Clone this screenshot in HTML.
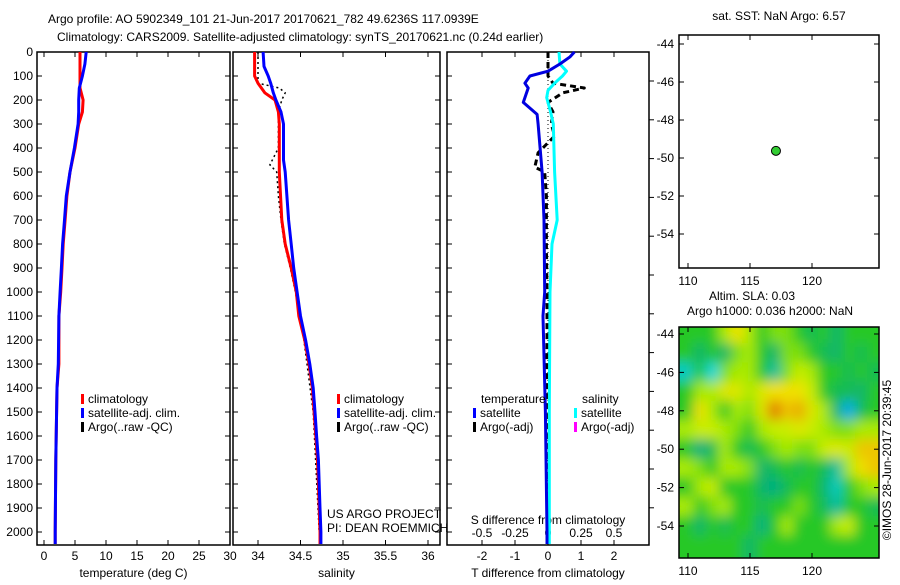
<!DOCTYPE html>
<html><head><meta charset="utf-8"><style>
body{margin:0;background:#fff;}
svg text{font-family:"Liberation Sans",sans-serif;font-size:12px;fill:#000;}
</style></head><body>
<svg id="chart" width="900" height="580" viewBox="0 0 900 580" xmlns="http://www.w3.org/2000/svg">
<rect width="900" height="580" fill="#fff"/>
<text x="48" y="23" font-size="13">Argo profile: AO 5902349_101 21-Jun-2017 20170621_782 49.6236S 117.0939E</text>
<text x="57" y="41" font-size="13">Climatology: CARS2009. Satellite-adjusted climatology: synTS_20170621.nc (0.24d earlier)</text>
<g id="g1"></g>
<text x="779" y="20" text-anchor="middle">sat. SST: NaN Argo: 6.57</text>
<text x="752" y="300" text-anchor="middle">Altim. SLA: 0.03</text>
<text x="770" y="315" text-anchor="middle">Argo h1000: 0.036 h2000: NaN</text>
<text transform="translate(891,460) rotate(-90)" text-anchor="middle">©IMOS 28-Jun-2017 20:39:45</text>
</svg>
<script>
// ---- data ----
const depthTicks=[0,100,200,300,400,500,600,700,800,900,1000,1100,1200,1300,1400,1500,1600,1700,1800,1900,2000];
const tTicks=[0,5,10,15,20,25,30];
const sTicks=[34,34.5,35,35.5,36];
const dTTicks=[-2,-1,0,1,2];
const dSTicks=[-0.5,-0.25,0,0.25,0.5];
const tDepth=[0,50,100,150,200,250,300,400,500,600,700,800,900,1000,1100,1300,1400,1700,2000,2050];
const tClim=[5.8,5.8,5.8,5.8,6.3,6.2,5.6,5.0,4.2,3.7,3.4,3.1,2.9,2.7,2.4,2.4,2.1,1.9,1.8,1.8];
const tSat=[6.8,6.6,6.2,5.7,5.6,5.6,5.5,4.9,4.2,3.6,3.3,3.0,2.8,2.6,2.4,2.3,2.1,1.9,1.8,1.8];
const sDepth=[0,60,100,130,170,200,250,300,450,500,700,800,900,1000,1100,1200,1300,1400,1500,1600,1700,1800,1900,2000,2050];
const sClim=[33.96,33.96,33.96,34.0,34.08,34.2,34.24,34.25,34.25,34.25,34.28,34.32,34.39,34.45,34.48,34.55,34.6,34.64,34.66,34.68,34.7,34.71,34.72,34.73,34.73];
const sSat=[34.06,34.07,34.12,34.15,34.18,34.21,34.27,34.3,34.3,34.32,34.36,34.39,34.42,34.46,34.5,34.56,34.61,34.65,34.67,34.69,34.71,34.72,34.73,34.74,34.74];
const argoSDepth=[0,130,150,170,200,250,300,400,470,500,600,700,800,900,1000,1200,1500,2000];
const argoS=[34.0,34.0,34.25,34.32,34.28,34.24,34.24,34.24,34.14,34.22,34.24,34.27,34.31,34.38,34.44,34.54,34.65,34.72];
const dDepth=[0,20,50,80,100,130,150,210,260,300,400,500,700,1000,1100,1500,2000,2050];
const dTSat=[0.8,0.67,0.36,0,-0.55,-0.7,-0.6,-0.75,-0.33,-0.3,-0.24,-0.18,-0.12,-0.1,-0.15,-0.08,-0.03,-0.03];
const dSDepth=[0,50,80,100,130,160,190,250,300,500,700,800,1000,1500,2000,2050];
const dSSat=[0.083,0.09,0.14,0.11,0.05,0,-0.01,0.02,0.04,0.05,0.07,0.03,0.015,0.01,0.01,0.01];
const dArgoDepth=[0,100,130,150,170,210,250,300,350,420,480,500,600,800,1000,1500,2000];
const dTArgo=[0,0,0.15,1.1,0.45,0,0.15,0.1,0.2,-0.3,-0.4,-0.1,-0.05,-0.05,-0.03,-0.03,-0.02];
const mapLon=[117.0939];
const mapLat=[-49.6236];
const lonTicks=[110,115,120];
const latTicks=[-44,-46,-48,-50,-52,-54];
const slaLats=[-44,-45,-46,-47,-48,-49,-50,-51,-52,-53,-54,-55];
const slaLons=[110,111,112,113,114,115,116,117,118,119,120,121,122,123,124,125];
const sla=[
[0,0,0,.3,.6,.3,0,.2,.2,0,-.2,0,-.3,0,0,0],
[0,-.3,0,-.3,.2,.3,0,-.3,.2,.2,0,-.2,-.3,0,-.2,0],
[-.6,0,-.7,.2,.3,.3,0,-.5,.2,.4,.3,0,0,-.2,0,-.2],
[0,.3,.3,.5,.5,.3,.5,.6,.6,.6,.4,0,-.2,-.2,-.3,0],
[0,.6,.3,0,.3,.2,.5,1,.7,.8,.5,.3,-.3,-.8,-.2,0],
[.3,.4,.4,.3,.2,0,.3,.4,.4,.5,.4,.3,.2,.2,.3,.3],
[0,-.4,-.2,.3,0,-.2,0,.2,.3,.2,.2,.4,.5,.4,.7,.7],
[.3,.2,0,.3,.3,.2,-.3,-.2,0,-.2,0,-.2,-.5,.3,.6,.7],
[0,.3,.4,0,0,0,-.3,-.4,-.2,0,0,-.3,-.6,0,.2,.3],
[.3,0,.2,.3,0,0,-.2,0,0,.2,0,-.2,-.5,0,0,-.2],
[0,-.3,0,-.2,0,0,-.4,0,.3,0,0,0,.3,.4,0,0],
[0,0,0,0,0,-.3,0,0,0,0,0,0,0,0,0,0]];
// ---- helpers ----
const NS="http://www.w3.org/2000/svg";
const root=document.getElementById('g1');
function mk(tag,at,parent){const e=document.createElementNS(NS,tag);for(const k in at)e.setAttribute(k,at[k]);(parent||root).appendChild(e);return e;}
const Y0=52,PY=0.24;
const yD=d=>Y0+d*PY;
const P1={x0:37,x1:230},P2={x0:233,x1:440},P3={x0:447,x1:649},YB=545;
const xT=v=>44+v*6.2;
const xS=v=>258+(v-34)*85;
const xDT=v=>548+v*33;
const xDS=v=>548+v*132;
function frame(p,name){const r=mk('rect',{x:p.x0,y:Y0,width:p.x1-p.x0,height:YB-Y0,fill:'none',stroke:'#000','stroke-width':1.5});

}
function xticks(p,ticks,fx,label,name){ticks.forEach(t=>{const x=fx(t);
mk('line',{x1:x,x2:x,y1:Y0,y2:Y0+5,stroke:'#000'});mk('line',{x1:x,x2:x,y1:YB,y2:YB-5,stroke:'#000'});
const tx=mk('text',{x:x,y:YB+15,'text-anchor':'middle'});tx.textContent=t;

});
const l=mk('text',{x:(p.x0+p.x1)/2,y:577,'text-anchor':'middle'});l.textContent=label;

}
function yticks(p,lab){depthTicks.forEach(d=>{const y=yD(d);
mk('line',{x1:p.x0,x2:p.x0+5,y1:y,y2:y,stroke:'#000'});mk('line',{x1:p.x1,x2:p.x1-5,y1:y,y2:y,stroke:'#000'});
if(lab){const t=mk('text',{x:p.x0-4,y:y+4,'text-anchor':'end'});t.textContent=d;

}});}
function line(xs,ds,fx,col,w,name,dash){const pts=xs.map((v,i)=>fx(v).toFixed(1)+','+yD(ds[i]).toFixed(1)).join(' ');
const e=mk('polyline',{points:pts,fill:'none',stroke:col,'stroke-width':w,'stroke-linejoin':'round'});if(dash)e.setAttribute('stroke-dasharray',dash);

return e;}
function legend(x,y,items){items.forEach((it,i)=>{mk('rect',{x:x,y:y+i*14-9,width:3,height:10,fill:it[1]});
const t=mk('text',{x:x+7,y:y+i*14});t.textContent=it[0];

});}
// panel 1
frame(P1,'temperature-panel');yticks(P1,true);xticks(P1,tTicks,xT,'temperature (deg C)','temperature');
line(tClim,tDepth,xT,'#f00',3,'temperature-climatology-line');
line(tSat,tDepth,xT,'#00f',3,'temperature-satellite-line');
legend(81,403,[['climatology','#f00'],['satellite-adj. clim.','#00f'],['Argo(..raw -QC)','#000']]);
// panel 2
frame(P2,'salinity-panel');yticks(P2,false);xticks(P2,sTicks,xS,'salinity','salinity');
line(argoS,argoSDepth,xS,'#000',1.5,'salinity-argo-line','2,3');
line(sClim,sDepth,xS,'#f00',3,'salinity-climatology-line');
line(sSat,sDepth,xS,'#00f',3,'salinity-satellite-line');
legend(337,403,[['climatology','#f00'],['satellite-adj. clim.','#00f'],['Argo(..raw -QC)','#000']]);
let t=mk('text',{x:327,y:518});t.textContent='US ARGO PROJECT';
t=mk('text',{x:327,y:532});t.textContent='PI: DEAN ROEMMICH';
// panel 3
frame(P3,'difference-panel');xticks(P3,dTTicks,xDT,'T difference from climatology','t-difference');
depthTicks.forEach(d=>{const y=yD(d);mk('line',{x1:P3.x0,x2:P3.x0+5,y1:y,y2:y,stroke:'#000'});});
for(let y=81;y<545;y+=38.8)mk('line',{x1:P3.x1,x2:P3.x1+5,y1:y,y2:y,stroke:'#000'});
mk('line',{x1:548,x2:548,y1:Y0,y2:YB,stroke:'#000','stroke-dasharray':'1,3'});
dSTicks.forEach(v=>{const x=xDS(v);const e=mk('text',{x:x,y:537,'text-anchor':'middle'});e.textContent=v;

});
t=mk('text',{x:548,y:524,'text-anchor':'middle'});t.textContent='S difference from climatology';
line(dTArgo,dArgoDepth,xDT,'#000',3,'t-difference-argo-line','6,4');
line(dSSat,dSDepth,xDS,'#0ff',3,'s-difference-satellite-line');
line(dTSat,dDepth,xDT,'#0000e0',3,'t-difference-satellite-line');
t=mk('text',{x:481,y:403});t.textContent='temperature';
t=mk('text',{x:582,y:403});t.textContent='salinity';
legend(473,417,[['satellite','#00f'],['Argo(-adj)','#000']]);
legend(574,417,[['satellite','#0ff'],['Argo(-adj)','#f0f']]);
// maps
const MX0=679,MX1=879;
const xL=l=>688+(l-110)*12.4;
function mapAxes(y0,y1,yLat,name){const r=mk('rect',{x:MX0,y:y0,width:MX1-MX0,height:y1-y0,fill:'none',stroke:'#000','stroke-width':1.5});


latTicks.forEach(l=>{const y=yLat(l);mk('line',{x1:MX0,x2:MX0+5,y1:y,y2:y,stroke:'#000'});mk('line',{x1:MX1,x2:MX1-5,y1:y,y2:y,stroke:'#000'});
const e=mk('text',{x:MX0-5,y:y+4,'text-anchor':'end'});e.textContent=l;

});
lonTicks.forEach(l=>{const x=xL(l);mk('line',{x1:x,x2:x,y1:y1,y2:y1-5,stroke:'#000'});mk('line',{x1:x,x2:x,y1:y0,y2:y0+5,stroke:'#000'});
const e=mk('text',{x:x,y:y1+17,'text-anchor':'middle'});e.textContent=l;

});}
const yM1=l=>44+(-44-l)*19;
const yM2=l=>334+(-44-l)*19.2;
// heatmap
function col(v){const st=[[-1,[0,90,255]],[-0.7,[0,215,225]],[-0.4,[0,175,130]],[0,[40,200,40]],[0.35,[190,240,0]],[0.6,[240,225,0]],[1,[225,115,0]]];
v=Math.max(-1,Math.min(1,v));for(let i=1;i<st.length;i++){if(v<=st[i][0]){const a=st[i-1],b=st[i],f=(v-a[0])/(b[0]-a[0]);
return 'rgb('+a[1].map((c,k)=>Math.round(c+(b[1][k]-c)*f)).join(',')+')';}}return 'rgb(225,115,0)';}
const defs=mk('defs',{});
const cp=mk('clipPath',{id:'mc'},defs);mk('rect',{x:MX0,y:327,width:MX1-MX0,height:231},cp);
const fl=mk('filter',{id:'bl',filterUnits:'userSpaceOnUse',x:640,y:290,width:280,height:310},defs);mk('feGaussianBlur',{stdDeviation:6},fl);
const hg=mk('g',{'clip-path':'url(#mc)'});


mk('rect',{x:MX0,y:327,width:MX1-MX0,height:231,fill:col(0)},hg);
const hb=mk('g',{filter:'url(#bl)'},hg);
slaLats.forEach((la,i)=>slaLons.forEach((lo,j)=>{const cw=12.4,ch=19.2;
const ex=(j===0?20:0),ey=(i===0?20:0),ex2=(j===slaLons.length-1?20:0),ey2=(i===slaLats.length-1?20:0);
const c=mk('rect',{x:xL(lo)-cw/2-0.5-ex,y:yM2(la)-ch/2-0.5-ey,width:cw+1+ex+ex2,height:ch+1+ey+ey2,fill:col(sla[i][j])},hb);

}));
mapAxes(35,268,yM1,'sst-map-frame');
mapAxes(327,558,yM2,'sla-map-frame');
mapLon.forEach((lo,i)=>{const c=mk('circle',{cx:xL(lo),cy:yM1(mapLat[i]),r:4.5,fill:'#3c3',stroke:'#000','stroke-width':1});

});
</script>
</body></html>
